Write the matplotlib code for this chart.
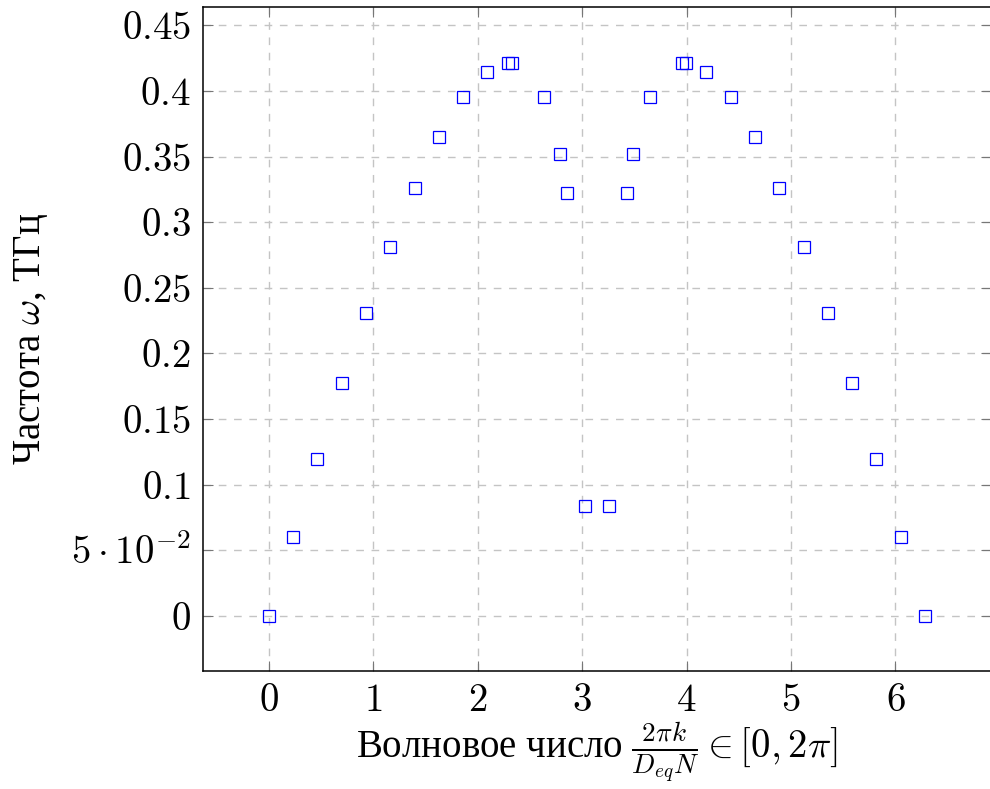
import matplotlib
matplotlib.use("Agg")
import matplotlib.pyplot as plt

plt.rcParams['font.family'] = ['Liberation Serif', 'DejaVu Serif']
plt.rcParams['mathtext.fontset'] = 'cm'

# wave number and frequency
k_vals = [0.0, 0.233, 0.465, 0.698, 0.931, 1.164, 1.396, 1.629, 1.862, 2.094,
          2.287, 2.327, 2.637, 2.793, 2.857, 3.025, 3.258, 3.427, 3.490, 3.646,
          3.956, 3.997, 4.189, 4.421, 4.654, 4.887, 5.120, 5.352, 5.585, 5.818,
          6.050, 6.283]
omega = [0.0, 0.0601, 0.1194, 0.1773, 0.2309, 0.2809, 0.3261, 0.3648, 0.3955, 0.4147,
         0.4216, 0.4216, 0.3957, 0.3520, 0.3220, 0.0835, 0.0835, 0.3220, 0.3520, 0.3957,
         0.4216, 0.4216, 0.4147, 0.3955, 0.3648, 0.3261, 0.2809, 0.2309, 0.1773, 0.1194,
         0.0601, 0.0]

x_ticks = [0, 1, 2, 3, 4, 5, 6]
y_ticks = [0, 0.05, 0.1, 0.15, 0.2, 0.25, 0.3, 0.35, 0.4, 0.45]
y_ticklabels = ['$0$', r'$5\cdot10^{-2}$', '$0.1$', '$0.15$', '$0.2$', '$0.25$',
                '$0.3$', '$0.35$', '$0.4$', '$0.45$']

fig = plt.figure(figsize=(9.9, 7.89), dpi=100)
ax = fig.add_axes([0.2051, 0.1496, 0.7956, 0.841])

ax.plot(k_vals, omega, linestyle='none', marker='s', markersize=8,
        markerfacecolor='none', markeredgecolor='blue', markeredgewidth=0.9,
        zorder=3, clip_on=False)

# pgfplots-like 10% enlargement of limits
xr = max(k_vals) - min(k_vals)
yr = max(omega) - min(omega)
ax.set_xlim(min(k_vals) - 0.1 * xr, max(k_vals) + 0.1 * xr)
ax.set_ylim(min(omega) - 0.1 * yr, max(omega) + 0.1 * yr)

ax.set_xticks(x_ticks)
ax.set_xticklabels(['$%d$' % t for t in x_ticks])
ax.set_yticks(y_ticks)
ax.set_yticklabels(y_ticklabels)

ax.grid(True, color='#c4c4c4', linestyle=(0, (5.5, 5.5)), linewidth=1.0)
ax.set_axisbelow(True)

ax.tick_params(direction='in', length=7, width=0.8, color='#777777',
               labelsize=28, pad=9, top=True, right=True)
for s in ax.spines.values():
    s.set_linewidth(1.1)

ax.set_xlabel(r'Волновое число $\frac{2\pi k}{D_{eq}N} \in [0, 2\pi]$',
              fontsize=28, labelpad=0)
ax.set_ylabel(r'Частота $\omega$, ТГц', fontsize=28, labelpad=15)

fig.savefig('out.png', dpi=100)
